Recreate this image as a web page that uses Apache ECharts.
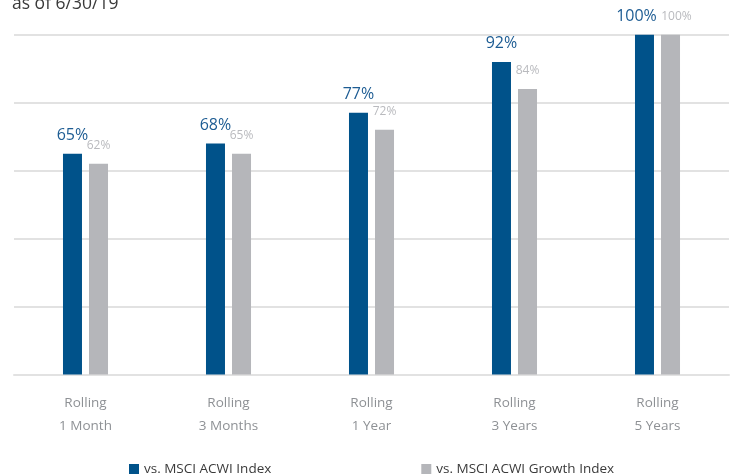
<!DOCTYPE html>
<html>
<head>
<meta charset="utf-8">
<script src="https://cdn.jsdelivr.net/npm/echarts@6/dist/echarts.min.js"></script>
<style>
  html, body { margin: 0; padding: 0; background: #ffffff; }
  #chart { width: 732px; height: 474px; }
</style>
</head>
<body>
<div id="chart"></div>
<script>
// Periods and outperformance percentages
const categories = ['Rolling\n1 Month', 'Rolling\n3 Months', 'Rolling\n1 Year', 'Rolling\n3 Years', 'Rolling\n5 Years'];
const acwiValues = [65, 68, 77, 92, 100];
const growthValues = [62, 65, 72, 84, 100];
const seriesNames = ['vs. MSCI ACWI Index', 'vs. MSCI ACWI Growth Index'];
const subtitleText = 'as of 6/30/19';

const BLUE = '#00528a';
const GRAY = '#b5b6ba';
const FONT = '"Open Sans", "Noto Sans", sans-serif';

// When both bars in a group reach the top, nudge their labels apart so they don't collide
function withLabelNudge(values, others, dx) {
  return values.map((v, i) => {
    if (v >= 100 && others[i] >= 100) {
      return { value: v, label: { offset: [dx, 0] } };
    }
    return v;
  });
}

const chart = echarts.init(document.getElementById('chart'), null, { renderer: 'canvas' });

chart.setOption({
  animation: false,
  backgroundColor: '#ffffff',
  textStyle: { fontFamily: FONT },
  title: {
    text: subtitleText,
    left: 12,
    top: -5,
    padding: 0,
    textStyle: { fontFamily: FONT, fontSize: 17.5, fontWeight: 'normal', color: '#3a3a3a' }
  },
  legend: {
    data: seriesNames,
    left: 124,
    top: 457,
    itemWidth: 10,
    itemHeight: 10,
    itemGap: 150,
    icon: 'rect',
    textStyle: { fontFamily: FONT, fontSize: 13.5, color: '#3a3a3a' }
  },
  grid: { left: 14, right: 3, top: 34.7, bottom: 99.5, containLabel: false },
  xAxis: {
    type: 'category',
    data: categories,
    axisTick: { show: false },
    axisLine: { show: true, lineStyle: { color: '#e2e2e2', width: 2 } },
    axisLabel: {
      color: '#8e9195',
      fontFamily: FONT,
      fontSize: 13.5,
      lineHeight: 23,
      margin: 17
    }
  },
  yAxis: {
    type: 'value',
    min: 0,
    max: 100,
    interval: 20,
    axisLabel: { show: false },
    axisLine: { show: false },
    axisTick: { show: false },
    splitLine: { lineStyle: { color: '#e2e2e2', width: 2 } }
  },
  series: [
    {
      name: seriesNames[0],
      type: 'bar',
      data: withLabelNudge(acwiValues, growthValues, -8),
      barWidth: 19,
      barGap: '37%',
      itemStyle: { color: BLUE },
      label: {
        show: true,
        position: 'top',
        distance: 10,
        formatter: '{c}%',
        color: '#1d5c93',
        fontFamily: FONT,
        fontSize: 16
      }
    },
    {
      name: seriesNames[1],
      type: 'bar',
      data: withLabelNudge(growthValues, acwiValues, 6),
      barWidth: 19,
      barGap: '37%',
      itemStyle: { color: GRAY },
      label: {
        show: true,
        position: 'top',
        distance: 12,
        formatter: '{c}%',
        color: '#b9babe',
        fontFamily: FONT,
        fontSize: 12
      }
    }
  ]
});
</script>
</body>
</html>
